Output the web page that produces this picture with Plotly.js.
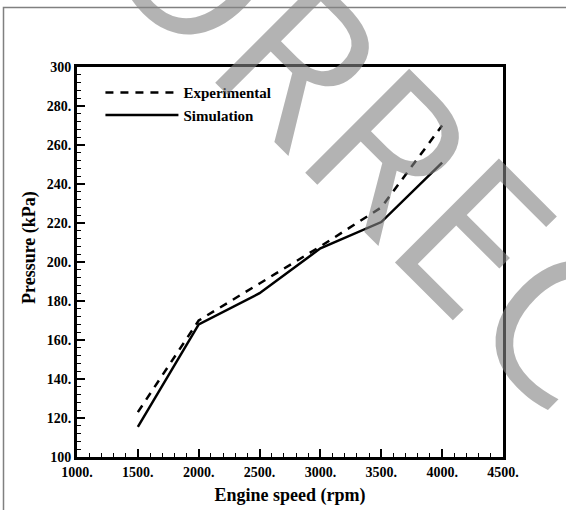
<!DOCTYPE html>
<html>
<head>
<meta charset="utf-8">
<script src="https://cdn.plot.ly/plotly-3.0.1.min.js"></script>
<style>html,body{margin:0;padding:0;background:#fff;}#chart{width:566px;height:510px;}</style>
</head>
<body>
<div id="chart"></div>
<script>
// ---- data ----
const engineSpeed = [1500, 2000, 2500, 3000, 3500, 4000];
const experimental = [123, 170, 189, 208, 228, 270];
const simulation = [115.5, 168, 184, 207, 220.5, 251];
const xTickVals = [1000, 1500, 2000, 2500, 3000, 3500, 4000, 4500];
const xTickText = ['1000.', '1500.', '2000.', '2500.', '3000.', '3500.', '4000.', '4500.'];
const yTickVals = [100, 120, 140, 160, 180, 200, 220, 240, 260, 280, 300];
const yTickText = ['100', '120.', '140.', '160.', '180.', '200.', '220.', '240.', '260.', '280.', '300'];
const xTitle = 'Engine speed (rpm)';
const yTitle = 'Pressure (kPa)';
const watermarkText = 'UNCORRECTED PROOF';

// ---- layout geometry ----
const W = 566, H = 510;
const m = {l: 77, r: 63, t: 67, b: 53};
const pw = W - m.l - m.r, ph = H - m.t - m.b;
const px2paperX = p => (p - m.l) / pw;
const px2paperY = p => 1 - (p - m.t) / ph;

// watermark placement (rotated 45deg, anchored on the "E")
const wmSize = 206;
const ctx = document.createElement('canvas').getContext('2d');
ctx.font = wmSize + 'px "Open Sans"';
const wmW = ctx.measureText(watermarkText).width;
const preW = ctx.measureText('UNCORR').width;
const d = [Math.SQRT1_2, Math.SQRT1_2], u = [Math.SQRT1_2, -Math.SQRT1_2];
const ePen = [395 - d[0] * 20, 263 - d[1] * 20];
const along = wmW / 2 - preW, up = 0.39 * wmSize;
const cx = ePen[0] + d[0] * along + u[0] * up;
const cy = ePen[1] + d[1] * along + u[1] * up;

const serif = 'Liberation Serif, Times New Roman, serif';

const traces = [
  {x: engineSpeed, y: experimental, name: 'Experimental', type: 'scatter', mode: 'lines',
   line: {color: '#000', width: 2.5, dash: '8px,7px'}},
  {x: engineSpeed, y: simulation, name: 'Simulation', type: 'scatter', mode: 'lines',
   line: {color: '#000', width: 2.5}}
];

const axisCommon = {
  showline: true, linecolor: '#000', linewidth: 3, mirror: true,
  showgrid: false, zeroline: false,
  ticks: 'inside', ticklen: 8, tickwidth: 2, tickcolor: '#000',
  tickfont: {family: serif, size: 14, color: '#000', weight: 'bold'}
};

const layout = {
  width: W, height: H,
  margin: m,
  paper_bgcolor: '#fff', plot_bgcolor: '#fff',
  showlegend: true,
  legend: {x: 0.055, y: 0.976, xanchor: 'left', yanchor: 'top', bgcolor: 'rgba(0,0,0,0)',
           font: {family: serif, size: 15, color: '#000', weight: 'bold'}, itemwidth: 73,
           tracegroupgap: 0},
  xaxis: Object.assign({}, axisCommon, {
    range: [1000, 4500], tickvals: xTickVals, ticktext: xTickText,
    minor: {dtick: 100, ticks: 'inside', ticklen: 4, tickwidth: 1, tickcolor: '#000'},
    title: {text: xTitle, font: {family: serif, size: 18, color: '#000', weight: 'bold'}, standoff: 10}
  }),
  yaxis: Object.assign({}, axisCommon, {
    range: [100, 300], tickvals: yTickVals, ticktext: yTickText,
    minor: {dtick: 4, ticks: 'inside', ticklen: 4, tickwidth: 1, tickcolor: '#000'}
  }),
  shapes: [
    {type: 'rect', xref: 'paper', yref: 'paper',
     x0: px2paperX(3.5), x1: px2paperX(575), y0: px2paperY(520), y1: px2paperY(7.5),
     line: {color: '#808080', width: 1.5}, fillcolor: 'rgba(0,0,0,0)', layer: 'below'}
  ],
  annotations: [
    {text: yTitle, xref: 'paper', yref: 'paper', x: px2paperX(29), y: px2paperY(248),
     xanchor: 'center', yanchor: 'middle', textangle: -90, showarrow: false,
     font: {family: serif, size: 18, color: '#000', weight: 'bold'}},
    {text: watermarkText, xref: 'paper', yref: 'paper', x: px2paperX(cx), y: px2paperY(cy),
     xanchor: 'center', yanchor: 'middle', textangle: 45, showarrow: false,
     font: {family: 'Open Sans', size: wmSize, color: 'rgba(131,131,131,0.61)'}}
  ]
};

Plotly.newPlot('chart', traces, layout, {staticPlot: true, displayModeBar: false});
</script>
</body>
</html>
